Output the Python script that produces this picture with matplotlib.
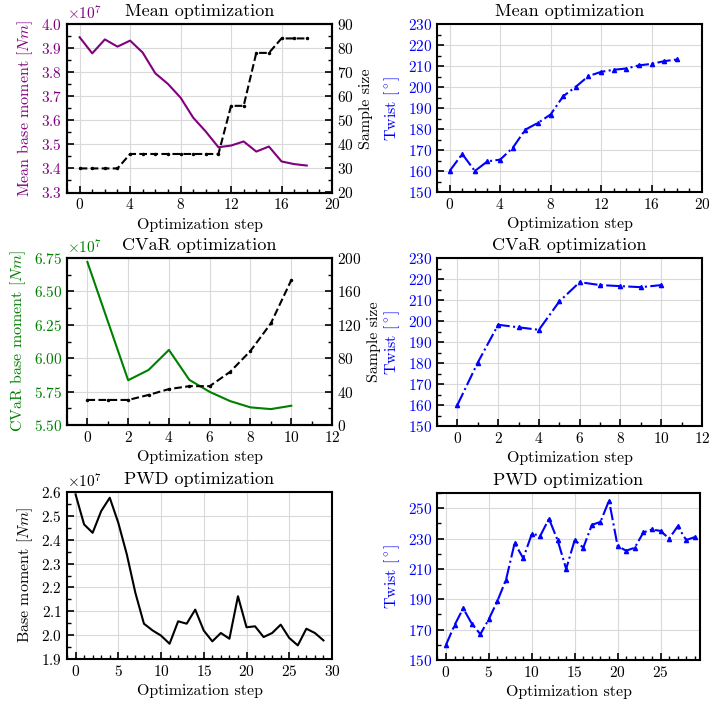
import numpy as np
import matplotlib
matplotlib.use("Agg")
import matplotlib.pyplot as plt
from matplotlib.ticker import MultipleLocator, ScalarFormatter

plt.rcParams.update({
    "font.family": ["cmr10", "DejaVu Serif"],
    "mathtext.fontset": "cm",
    "axes.formatter.use_mathtext": True,
    "font.size": 11,
    "axes.titlesize": 13,
    "axes.labelsize": 11.5,
    "xtick.labelsize": 11,
    "ytick.labelsize": 11,
    "xtick.direction": "in",
    "ytick.direction": "in",
    "xtick.major.size": 5,
    "ytick.major.size": 5,
    "xtick.minor.size": 3,
    "ytick.minor.size": 3,
    "xtick.major.width": 1.2,
    "ytick.major.width": 1.2,
    "xtick.minor.width": 1.0,
    "ytick.minor.width": 1.0,
    "axes.linewidth": 1.5,
    "axes.unicode_minus": False,
})

# ---- Mean optimization ----
mean_steps = np.arange(19)
mean_moment = np.array([3.945, 3.878, 3.936, 3.906, 3.931, 3.881, 3.795, 3.751,
                        3.694, 3.611, 3.553, 3.488, 3.495, 3.512, 3.470, 3.491,
                        3.429, 3.418, 3.412]) * 1e7
mean_samples = [30, 30, 30, 30, 36, 36, 36, 36, 36, 36, 36, 36,
                56, 56, 78, 78, 84, 84, 84]
mean_twist = [160.0, 168.1, 160.0, 164.6, 165.4, 171.0, 179.7, 182.9, 186.9,
              195.6, 200.1, 205.2, 207.2, 208.2, 208.8, 210.3, 211.0, 212.3, 213.1]

# ---- CVaR optimization ----
cvar_moment_steps = [0, 2, 3, 4, 5, 6, 7, 8, 9, 10]
cvar_moment = np.array([6.72, 5.835, 5.912, 6.062, 5.838, 5.748, 5.679,
                        5.632, 5.619, 5.644]) * 1e7
cvar_sample_steps = np.arange(11)
cvar_samples = [30, 30, 30, 36, 43, 46.5, 46.5, 63.6, 88.7, 121.7, 173.4]
cvar_twist_steps = np.arange(11)
cvar_twist = [160.0, 180.2, 198.2, 197.0, 195.8, 209.3, 218.5, 217.1, 216.6,
              216.1, 217.1]

# ---- PWD optimization ----
pwd_steps = np.arange(30)
pwd_moment = np.array([2.590, 2.464, 2.429, 2.520, 2.576, 2.471, 2.338, 2.177,
                       2.048, 2.020, 1.998, 1.964, 2.058, 2.048, 2.107, 2.019,
                       1.974, 2.009, 1.985, 2.163, 2.033, 2.037, 1.992, 2.009,
                       2.044, 1.988, 1.957, 2.027, 2.009, 1.978]) * 1e7
pwd_twist = [160, 173, 184, 174, 167, 177, 189, 203, 227, 217, 233, 232, 243,
             229, 210, 229, 224, 239, 241, 255, 225, 222, 224, 234, 236, 235,
             230, 238, 229, 231]

W, H = 709, 705
fig = plt.figure(figsize=(W / 100, H / 100), dpi=100)


def axes_px(left, right, top, bottom):
    return fig.add_axes([left / W, 1 - bottom / H, (right - left) / W, (bottom - top) / H])


GRID = dict(color="#d9d9d9", linewidth=0.8)


def style(ax, xmaj, xmin, ymaj, ymin, xlim, ylim, yoffset=0.0):
    ax.set_xlim(*xlim)
    ax.set_ylim(*ylim)
    ax.xaxis.set_major_locator(MultipleLocator(xmaj))
    ax.xaxis.set_minor_locator(MultipleLocator(xmin))
    ax.yaxis.set_major_locator(MultipleLocator(ymaj, offset=yoffset))
    ax.yaxis.set_minor_locator(MultipleLocator(ymin))
    ax.grid(True, which="major", **GRID)
    ax.set_axisbelow(True)
    ax.set_xlabel("Optimization step")


def sci(ax, color):
    fmt = ScalarFormatter(useMathText=True, useOffset=False)
    fmt.set_powerlimits((0, 0))
    ax.yaxis.set_major_formatter(fmt)
    ax.yaxis.get_offset_text().set_color(color)


def moment_panel(ax, steps, vals, color, label, title, ylim, ymaj, ymin, xlim, xmaj):
    ax.plot(steps, vals, color=color, linewidth=1.5)
    style(ax, xmaj, 1, ymaj, ymin, xlim, ylim)
    sci(ax, color)
    ax.set_ylabel(label, color=color)
    ax.tick_params(axis="y", which="both", labelcolor=color)
    ax.set_title(title)


def samples_twin(ax, steps, vals, ylim, ymaj, ymin):
    tw = ax.twinx()
    tw.plot(steps, vals, color="black", linestyle="--", linewidth=1.5,
            marker=".", markersize=3)
    tw.set_ylim(*ylim)
    tw.yaxis.set_major_locator(MultipleLocator(ymaj))
    tw.yaxis.set_minor_locator(MultipleLocator(ymin))
    tw.set_ylabel("Sample size")
    return tw


def twist_panel(ax, steps, vals, title, ylim, ymaj, ymin, xlim, xmaj, yoffset=0.0):
    ax.plot(steps, vals, color="blue", linestyle="-.", linewidth=1.5,
            marker="^", markersize=3)
    style(ax, xmaj, 1, ymaj, ymin, xlim, ylim, yoffset)
    ax.set_ylabel(r"Twist [$^\circ$]", color="blue")
    ax.tick_params(axis="y", which="both", labelcolor="blue")
    ax.set_title(title)


# Row 1
ax = axes_px(67, 332, 24, 192.5)
moment_panel(ax, mean_steps, mean_moment, "purple", r"Mean base moment [$Nm$]",
             "Mean optimization", (3.3e7, 4.0e7), 0.1e7, 0.05e7, (-1, 20), 4)
samples_twin(ax, mean_steps, mean_samples, (20, 90), 10, 5)

ax = axes_px(437, 702, 24, 192)
twist_panel(ax, mean_steps, mean_twist, "Mean optimization", (150, 230), 10, 5, (-1, 20), 4)

# Row 2
ax = axes_px(67, 332, 258, 425)
moment_panel(ax, cvar_moment_steps, cvar_moment, "green", r"CVaR base moment [$Nm$]",
             "CVaR optimization", (5.5e7, 6.75e7), 0.25e7, 0.125e7, (-1, 12), 2)
samples_twin(ax, cvar_sample_steps, cvar_samples, (0, 200), 40, 20)

ax = axes_px(437, 702, 258, 426)
twist_panel(ax, cvar_twist_steps, cvar_twist, "CVaR optimization", (150, 230), 10, 5, (-1, 12), 2)

# Row 3
ax = axes_px(67, 332, 492, 659)
moment_panel(ax, pwd_steps, pwd_moment, "black", r"Base moment [$Nm$]",
             "PWD optimization", (1.9e7, 2.6e7), 0.1e7, 0.05e7, (-1, 30), 5)

ax = axes_px(437, 700, 493, 660)
twist_panel(ax, pwd_steps, pwd_twist, "PWD optimization", (150, 260), 20, 10,
            (-1.05, 29.6), 5, yoffset=10)

fig.savefig("out.png", dpi=100)
